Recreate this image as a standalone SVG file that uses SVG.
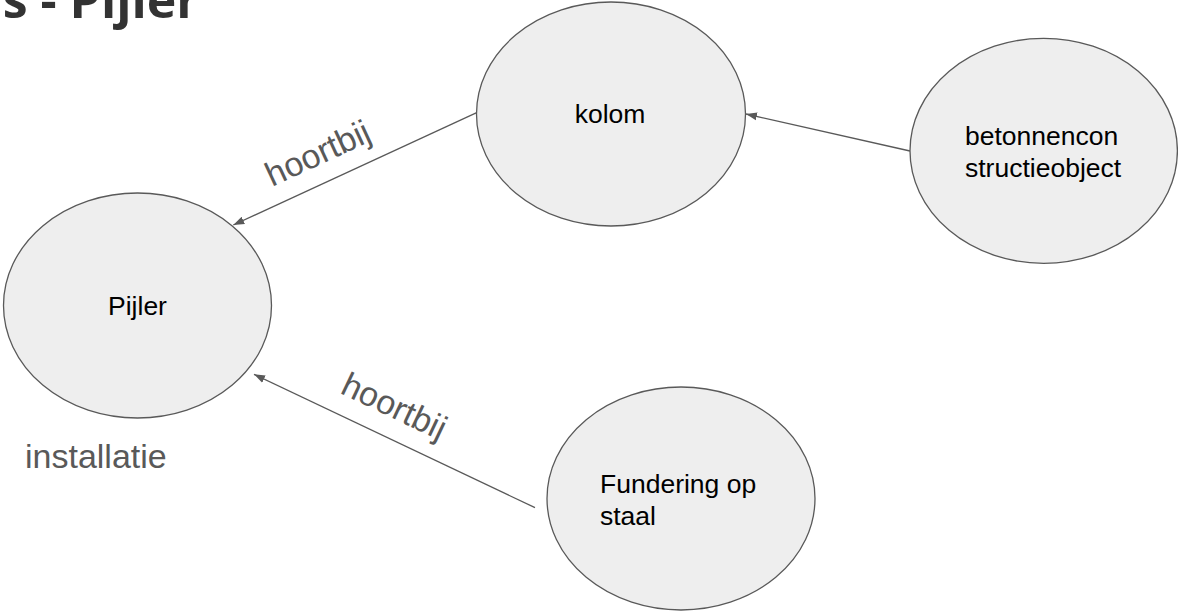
<svg xmlns="http://www.w3.org/2000/svg" width="1178" height="613" viewBox="0 0 1178 613">
<style>
.node{fill:#eeeeee;stroke:#595959;stroke-width:1.3}
.lbl{font-family:"Liberation Sans",Arial,sans-serif;font-size:26.5px;fill:#000}
.edge{stroke:#595959;stroke-width:1.3;fill:none}
.elbl{font-family:"Liberation Sans",Arial,sans-serif;font-size:34px;fill:#595959}
.title{font-family:"Open Sans",sans-serif;font-weight:bold;font-size:50px;fill:#333333}
</style>
<defs>
<marker id="arr" markerUnits="userSpaceOnUse" markerWidth="12" markerHeight="10" viewBox="0 0 12 10" refX="11" refY="5" orient="auto">
<path d="M0,1 L11,5 L0,9 Z" fill="#595959"/>
</marker>
</defs>
<text class="title" x="199" y="18" text-anchor="end">s - Pijler</text>
<g id="connectors">
<line class="edge" x1="476.7" y1="112.7" x2="233.3" y2="225" marker-end="url(#arr)"/>
<line class="edge" x1="910" y1="151" x2="746" y2="114" marker-end="url(#arr)"/>
<line class="edge" x1="535" y1="507.7" x2="254" y2="374.3" marker-end="url(#arr)"/>
<text class="elbl" transform="translate(272,187) rotate(-24.8)">hoortbij</text>
<text class="elbl" transform="translate(339,392.7) rotate(25.4)">hoortbij</text>
</g>
<g id="pijler">
<ellipse class="node" cx="137.5" cy="305.5" rx="134" ry="112.5"/>
<text class="lbl" x="137.5" y="315" text-anchor="middle">Pijler</text>
</g>
<g id="kolom">
<ellipse class="node" cx="611" cy="114" rx="134.5" ry="112"/>
<text class="lbl" x="610" y="123" text-anchor="middle">kolom</text>
</g>
<g id="betonnenconstructieobject">
<ellipse class="node" cx="1043.7" cy="150.8" rx="133.7" ry="112.5"/>
<text class="lbl" x="965" y="145">betonnencon</text>
<text class="lbl" x="965" y="176.5">structieobject</text>
</g>
<g id="fundering">
<ellipse class="node" cx="681" cy="498.5" rx="134" ry="111.5"/>
<text class="lbl" x="600" y="493.3">Fundering op</text>
<text class="lbl" x="600" y="525">staal</text>
</g>
<text class="elbl" x="25" y="468">installatie</text>
</svg>
